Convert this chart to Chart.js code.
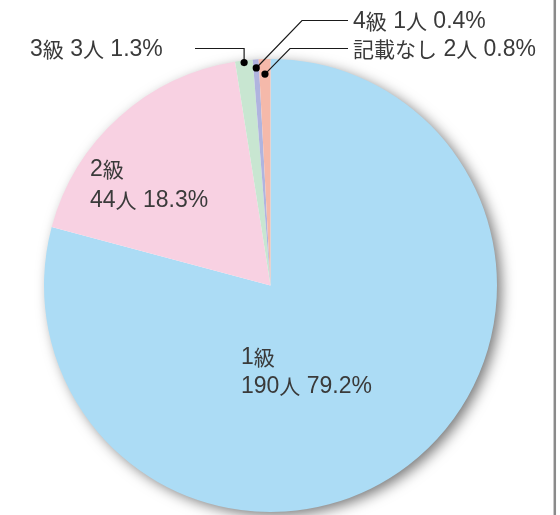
<!DOCTYPE html>
<html>
<head>
<meta charset="utf-8">
<script src="https://cdn.jsdelivr.net/npm/chart.js@4.4.1/dist/chart.umd.min.js"></script>
<style>
  html, body { margin: 0; padding: 0; background: #ffffff; }
  #wrap { width: 560px; height: 515px; position: relative; }
  canvas { display: block; }
</style>
</head>
<body>
<div id="wrap"><canvas id="c" width="560" height="515"></canvas></div>
<script>
// ---- data ----
const categories = ['1級', '2級', '3級', '4級', '記載なし'];
const counts = [190, 44, 3, 1, 2];
const percents = [79.2, 18.3, 1.3, 0.4, 0.8];
const unit = '人';

// ---- styles ----
const sliceColors = ['#acdcf5', '#f8d1e2', '#c8e6d1', '#b0b4df', '#f5b9aa'];
const textColor = '#3a3a3a';
const LATIN_FONT = '23px "Liberation Sans", "Noto Sans CJK JP", sans-serif';
const CJK_FONT = '21px "Noto Sans CJK JP", sans-serif';

function pctText(i) { return percents[i].toFixed(1) + '%'; }

// draw mixed latin / CJK text in runs
function drawMixed(ctx, text, x, y) {
  const runs = [];
  for (const ch of text) {
    const cjk = /[\u3000-\u9fff\uff00-\uffef]/.test(ch);
    if (runs.length && runs[runs.length - 1].cjk === cjk) runs[runs.length - 1].s += ch;
    else runs.push({ cjk, s: ch });
  }
  let cx = x;
  runs.forEach(r => {
    ctx.font = r.cjk ? CJK_FONT : LATIN_FONT;
    ctx.fillText(r.s, cx, r.cjk ? y + 1 : y);
    cx += ctx.measureText(r.s).width;
  });
}

// label layout (text placement, pixels)
const innerLabels = [
  { idx: 0, x: 241, y1: 364, y2: 393 },
  { idx: 1, x: 90, y1: 176, y2: 207 }
];
// outside labels with leader lines
const outerLabels = [
  { idx: 2, dotInset: 2, textX: 30, lineY: 48.5, lineEndX: 195, style: 'elbow' },
  { idx: 3, dotInset: 8.5, textX: 353, lineY: 20.5, bendX: 302, lineEndX: 348, style: 'diag' },
  { idx: 4, dotInset: 15, textX: 353, lineY: 48.5, bendX: 290, lineEndX: 348, style: 'diag' }
];

const shadowPlugin = {
  id: 'pieShadow',
  beforeDatasetsDraw(chart) {
    const arc = chart.getDatasetMeta(0).data[0];
    if (!arc) return;
    const ctx = chart.ctx;
    ctx.save();
    ctx.shadowColor = 'rgba(0,0,0,0.55)';
    ctx.shadowBlur = 14;
    ctx.shadowOffsetX = 5;
    ctx.shadowOffsetY = 4;
    ctx.fillStyle = '#ffffff';
    ctx.beginPath();
    ctx.arc(arc.x, arc.y, arc.outerRadius - 1, 0, Math.PI * 2);
    ctx.fill();
    ctx.restore();
  }
};

const labelPlugin = {
  id: 'pieLabels',
  afterDatasetsDraw(chart) {
    const ctx = chart.ctx;
    const meta = chart.getDatasetMeta(0);
    ctx.save();
    ctx.fillStyle = textColor;
    ctx.textBaseline = 'alphabetic';
    ctx.textAlign = 'left';

    innerLabels.forEach(l => {
      drawMixed(ctx, categories[l.idx], l.x, l.y1);
      drawMixed(ctx, counts[l.idx] + unit + ' ' + pctText(l.idx), l.x, l.y2);
    });

    ctx.strokeStyle = '#1a1a1a';
    ctx.lineWidth = 1.2;
    outerLabels.forEach(l => {
      const a = meta.data[l.idx];
      const mid = (a.startAngle + a.endAngle) / 2;
      const r = a.outerRadius - l.dotInset;
      const dx = a.x + Math.cos(mid) * r;
      const dy = a.y + Math.sin(mid) * r;
      ctx.beginPath();
      if (l.style === 'elbow') {
        ctx.moveTo(dx, dy);
        ctx.lineTo(dx, l.lineY);
        ctx.lineTo(l.lineEndX, l.lineY);
      } else {
        ctx.moveTo(dx, dy);
        ctx.lineTo(l.bendX, l.lineY);
        ctx.lineTo(l.lineEndX, l.lineY);
      }
      ctx.stroke();
      ctx.fillStyle = '#000000';
      ctx.beginPath();
      ctx.arc(dx, dy, 3.6, 0, Math.PI * 2);
      ctx.fill();
      ctx.fillStyle = textColor;
      const txt = categories[l.idx] + ' ' + counts[l.idx] + unit + ' ' + pctText(l.idx);
      drawMixed(ctx, txt, l.textX, l.lineY + 7.5);
    });

    // right frame line
    ctx.strokeStyle = '#8a8a8a';
    ctx.lineWidth = 2.5;
    ctx.beginPath();
    ctx.moveTo(554.8, 0);
    ctx.lineTo(554.8, chart.height);
    ctx.stroke();
    ctx.restore();
  }
};

new Chart(document.getElementById('c'), {
  type: 'pie',
  data: {
    labels: categories,
    datasets: [{
      data: counts,
      backgroundColor: sliceColors,
      borderWidth: 0,
      hoverOffset: 0
    }]
  },
  options: {
    responsive: false,
    devicePixelRatio: 1,
    animation: false,
    events: [],
    layout: { padding: { top: 59, bottom: 3, left: 44, right: 63 } },
    plugins: {
      legend: { display: false },
      tooltip: { enabled: false },
      title: { display: false }
    }
  },
  plugins: [shadowPlugin, labelPlugin]
});
</script>
</body>
</html>
